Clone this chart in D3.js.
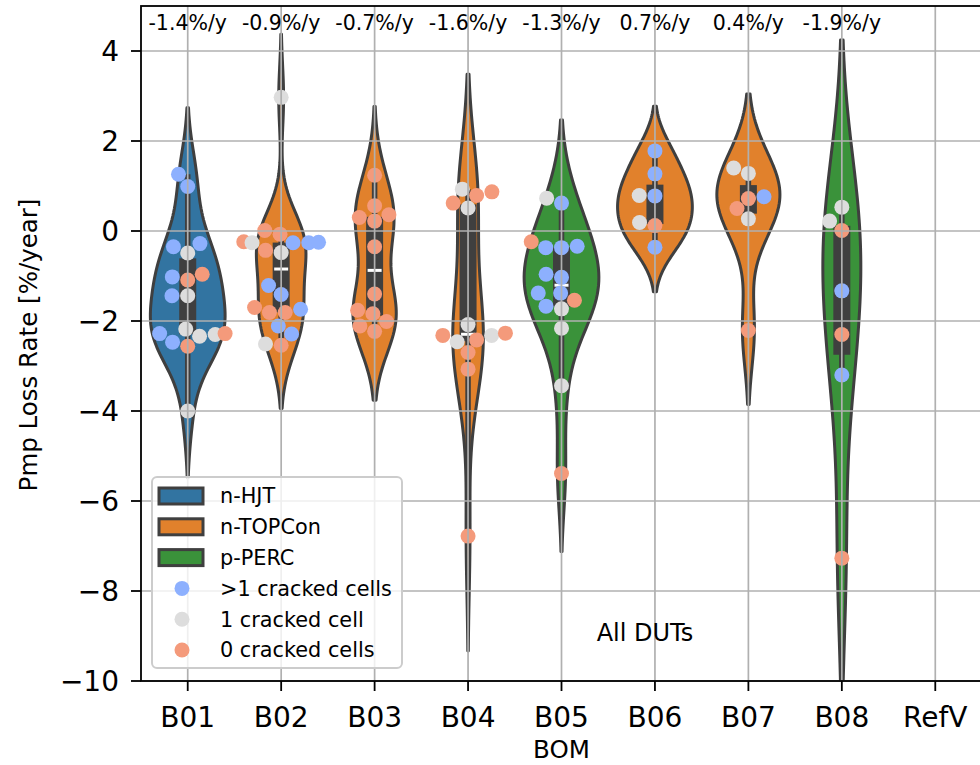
<!DOCTYPE html>
<html><head><meta charset="utf-8">
<script src="https://cdn.jsdelivr.net/npm/d3@7"></script>
<style>
body{margin:0;background:#fff}
svg{display:block}
text{font-family:"DejaVu Sans",sans-serif;fill:#000}
</style>
</head><body>
<svg id="chart" width="980" height="765"></svg>
<script>
// ---------------- DATA ----------------
const categories = ["B01","B02","B03","B04","B05","B06","B07","B08","RefV"];
const technologies = ["n-HJT","n-TOPCon","p-PERC"];
const bomTechnology = ["n-HJT","n-TOPCon","n-TOPCon","n-TOPCon","p-PERC","n-TOPCon","n-TOPCon","p-PERC",null];
const rateLabels = ["-1.4%/y","-0.9%/y","-0.7%/y","-1.6%/y","-1.3%/y","0.7%/y","0.4%/y","-1.9%/y"];
const crackLabels = [">1 cracked cells","1 cracked cell","0 cracked cells"];
const yTicks = [-10,-8,-6,-4,-2,0,2,4];
const annotation = "All DUTs";

// crack codes: 0 = >1 cracked cells, 1 = 1 cracked cell, 2 = 0 cracked cells
const b01Values = [1.26,0.99,-0.35,-0.28,-0.49,-1.02,-1.09,-0.96,-1.44,-1.44,-2.28,-2.30,-2.34,-2.18,-2.28,-2.56,-2.47,-4.00];
const b01Cracks = [0,0,0,0,1,0,2,2,1,0,0,1,1,1,2,2,0,1];
const b02Values = [2.97,0.01,-0.07,-0.24,-0.26,-0.43,-0.48,-0.26,-0.26,-0.25,-1.21,-1.41,-1.70,-1.81,-1.81,-1.74,-2.11,-2.29,-2.51,-2.54];
const b02Cracks = [1,2,2,2,0,2,1,0,1,0,0,0,2,2,2,0,0,0,1,2];
const b03Values = [1.24,0.56,0.30,0.22,0.36,-0.35,-1.40,-1.76,-1.84,-2.01,-2.11,-2.23];
const b03Cracks = [2,2,2,2,2,2,2,2,2,2,2,2];
const b04Values = [0.93,0.87,0.79,0.62,0.51,-2.08,-2.32,-2.46,-2.42,-2.32,-2.27,-2.70,-3.07,-6.78];
const b04Cracks = [1,2,2,2,1,1,1,1,2,2,2,2,2,2];
const b05Values = [0.73,0.62,-0.24,-0.37,-0.37,-0.34,-0.96,-1.03,-1.38,-1.38,-1.54,-1.67,-1.73,-2.16,-3.44,-5.39];
const b05Cracks = [1,0,2,0,0,0,0,0,0,0,2,0,1,1,1,2];
const b06Values = [1.78,1.27,0.79,0.78,0.19,0.12,-0.36];
const b06Cracks = [0,0,1,0,1,2,0];
const b07Values = [1.40,1.28,0.76,0.72,0.50,0.27,-2.21];
const b07Cracks = [1,1,0,2,2,1,2];
const b08Values = [0.53,0.22,0.01,-1.33,-2.30,-3.20,-7.27];
const b08Cracks = [1,1,2,0,2,0,2];
const refvValues = [];
const refvCracks = [];

const allValues = [b01Values,b02Values,b03Values,b04Values,b05Values,b06Values,b07Values,b08Values,refvValues];
const allCracks = [b01Cracks,b02Cracks,b03Cracks,b04Cracks,b05Cracks,b06Cracks,b07Cracks,b08Cracks,refvCracks];

// ---------------- STYLE ----------------
const techColors = {"n-HJT":"#3274a1","n-TOPCon":"#e1812c","p-PERC":"#3a923a"};
const crackColors = ["#8db0fe","#dddddd","#f49a7b"];
const edge = "#3f3f3f";
const gridColor = "#b0b0b0";

const m = {left:141, top:6, right:982, bottom:681};
const svg = d3.select("#chart");

const x = d3.scaleBand().domain(categories).range([m.left, m.right]).paddingInner(0).paddingOuter(0);
const y = d3.scaleLinear().domain([-10,5]).range([m.bottom, m.top]);
const cx = c => x(c) + x.bandwidth()/2;
const halfW = x.bandwidth()*0.4;

svg.append("clipPath").attr("id","plotclip").append("rect")
  .attr("x",m.left).attr("y",m.top).attr("width",m.right-m.left).attr("height",m.bottom-m.top);

// ---------------- KDE ----------------
function kde(values){
  const n = values.length;
  const sd = d3.deviation(values);
  const bw = sd*Math.pow(n,-0.2);
  const lo = d3.min(values)-2*bw, hi = d3.max(values)+2*bw;
  const grid = d3.range(100).map(i => lo+(hi-lo)*i/99);
  return grid.map(g => [g, d3.mean(values, v => Math.exp(-0.5*((g-v)/bw)**2))/(bw*Math.sqrt(2*Math.PI))]);
}
const dens = allValues.map(v => v.length>1 ? kde(v) : null);
const techMax = {};
dens.forEach((d,i) => {
  if(!d) return;
  const t = bomTechnology[i];
  techMax[t] = Math.max(techMax[t]||0, d3.max(d, p=>p[1]));
});

const gPlot = svg.append("g").attr("clip-path","url(#plotclip)");

// violins
dens.forEach((d,i) => {
  if(!d) return;
  const c = categories[i], t = bomTechnology[i];
  const wScale = d3.scaleLinear().domain([0, techMax[t]]).range([0, halfW]);
  const area = d3.area()
    .y(p => y(p[0]))
    .x0(p => cx(c) - wScale(p[1]))
    .x1(p => cx(c) + wScale(p[1]));
  gPlot.append("path").attr("d", area(d))
    .attr("fill", techColors[t]).attr("stroke", edge).attr("stroke-width", 3)
    .attr("stroke-linejoin","round");
});

// inner boxes
allValues.forEach((vals,i) => {
  if(vals.length<2) return;
  const c = categories[i];
  const s = vals.slice().sort(d3.ascending);
  const q1 = d3.quantile(s,0.25), q2 = d3.quantile(s,0.5), q3 = d3.quantile(s,0.75);
  const iqr = q3-q1;
  const lo = d3.min(s.filter(v => v >= q1-1.5*iqr));
  const hi = d3.max(s.filter(v => v <= q3+1.5*iqr));
  gPlot.append("line").attr("x1",cx(c)).attr("x2",cx(c)).attr("y1",y(lo)).attr("y2",y(hi))
    .attr("stroke",edge).attr("stroke-width",5.5);
  gPlot.append("rect").attr("x",cx(c)-8.5).attr("width",17).attr("y",y(q3)).attr("height",y(q1)-y(q3))
    .attr("fill",edge);
  gPlot.append("line").attr("x1",cx(c)-7).attr("x2",cx(c)+7).attr("y1",y(q2)).attr("y2",y(q2))
    .attr("stroke","#fff").attr("stroke-width",3);
});

// grid
const gGrid = svg.append("g");
yTicks.forEach(t => gGrid.append("line").attr("x1",m.left).attr("x2",m.right).attr("y1",y(t)).attr("y2",y(t))
  .attr("stroke",gridColor).attr("stroke-width",1.7));
categories.forEach(c => gGrid.append("line").attr("x1",cx(c)).attr("x2",cx(c)).attr("y1",m.top).attr("y2",m.bottom)
  .attr("stroke",gridColor).attr("stroke-width",1.7));

// swarm points (seaborn-like beeswarm)
const r = 7.5, dia = 15;
allValues.forEach((vals,i) => {
  if(!vals.length) return;
  const c = categories[i];
  const pts = vals.map((v,k) => ({v, k, py:y(v), crack: allCracks[i][k]}));
  // display coordinates with y upward -> ascending value order
  const order = pts.slice().sort((a,b) => a.v - b.v);
  const swarm = [];
  order.forEach((p,idx) => {
    if(idx===0){ p.off = 0; swarm.push(p); return; }
    const neighbors = [];
    for(let j=swarm.length-1;j>=0;j--){
      if(Math.abs(p.py - swarm[j].py) < dia) neighbors.push(swarm[j]);
      else break;
    }
    const cands = [0];
    let leftFirst = true;
    neighbors.forEach(q => {
      const dy = p.py - q.py;
      const dx = Math.sqrt(Math.max(dia*dia - dy*dy,0))*1.05;
      if(leftFirst) cands.push(q.off-dx, q.off+dx); else cands.push(q.off+dx, q.off-dx);
      leftFirst = !leftFirst;
    });
    const sorted = cands.map((o,ii)=>({o,ii})).sort((a,b)=> (Math.abs(a.o)-Math.abs(b.o)) || (a.ii-b.ii));
    let chosen = sorted[sorted.length-1].o;
    for(const cand of sorted){
      const ok = neighbors.every(q => (q.off-cand.o)**2 + (q.py-p.py)**2 >= dia*dia - 1e-6);
      if(ok){ chosen = cand.o; break; }
    }
    p.off = chosen;
    swarm.push(p);
  });
  pts.forEach(p => { p.off = Math.max(-halfW, Math.min(halfW, p.off)); });
  gPlot.selectAll(null).data(pts).enter().append("circle")
    .attr("cx", p => cx(c)+p.off).attr("cy", p => p.py).attr("r", r)
    .attr("fill", p => crackColors[p.crack]);
});

// frame
svg.append("rect").attr("x",m.left).attr("y",m.top).attr("width",m.right-m.left).attr("height",m.bottom-m.top)
  .attr("fill","none").attr("stroke","#000").attr("stroke-width",1.8);

// axes ticks
categories.forEach(c => {
  svg.append("line").attr("x1",cx(c)).attr("x2",cx(c)).attr("y1",m.bottom).attr("y2",m.bottom+10)
    .attr("stroke","#000").attr("stroke-width",1.8);
  svg.append("text").attr("x",cx(c)).attr("y",727).attr("text-anchor","middle")
    .style("font-size","28px").text(c);
});
yTicks.forEach(t => {
  svg.append("line").attr("x1",m.left-10).attr("x2",m.left).attr("y1",y(t)).attr("y2",y(t))
    .attr("stroke","#000").attr("stroke-width",1.8);
  svg.append("text").attr("x",119).attr("y",y(t)).attr("dy","0.36em").attr("text-anchor","end")
    .style("font-size","28px").text(t<0 ? "\u2212"+Math.abs(t) : String(t));
});

// axis labels
svg.append("text").attr("x",(m.left+m.right)/2).attr("y",758).attr("text-anchor","middle")
  .style("font-size","24.5px").text("BOM");
svg.append("text").attr("transform","translate(37,345) rotate(-90)").attr("text-anchor","middle")
  .style("font-size","24.5px").text("Pmp Loss Rate [%/year]");

// rate labels
rateLabels.forEach((t,i) => svg.append("text").attr("x",cx(categories[i])).attr("y",30)
  .attr("text-anchor","middle").style("font-size","20.5px").text(t));

// annotation
svg.append("text").attr("x",645).attr("y",641).attr("text-anchor","middle").style("font-size","24px").text(annotation);

// legend
const lg = svg.append("g");
lg.append("rect").attr("x",152).attr("y",477).attr("width",250).attr("height",191).attr("rx",5)
  .attr("fill","#fff").attr("fill-opacity",0.8).attr("stroke","#cccccc").attr("stroke-width",2);
const rowY = k => 496 + k*30.8;
technologies.forEach((t,k) => {
  lg.append("rect").attr("x",159).attr("y",rowY(k)-8).attr("width",44).attr("height",16)
    .attr("fill",techColors[t]).attr("stroke",edge).attr("stroke-width",3);
  lg.append("text").attr("x",220).attr("y",rowY(k)).attr("dy","0.36em").style("font-size","20.8px").text(t);
});
crackLabels.forEach((t,k) => {
  const yy = rowY(k+3);
  lg.append("circle").attr("cx",182).attr("cy",yy).attr("r",7.5).attr("fill",crackColors[k]);
  lg.append("text").attr("x",220).attr("y",yy).attr("dy","0.36em").style("font-size","20.8px").text(t);
});
</script>
</body></html>
